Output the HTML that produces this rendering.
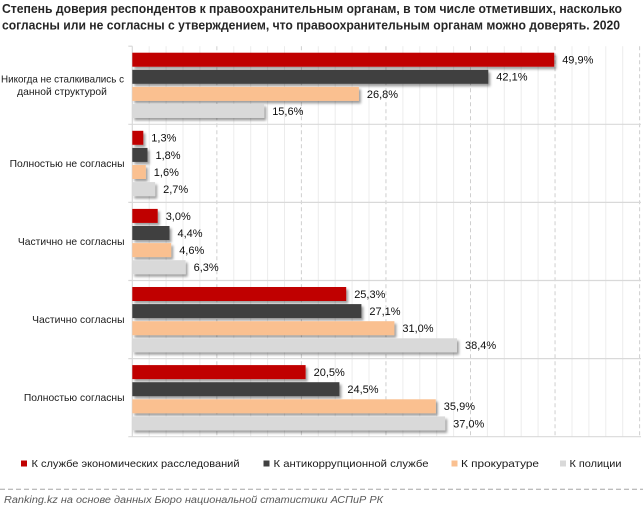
<!DOCTYPE html>
<html>
<head>
<meta charset="utf-8">
<style>
  html,body{margin:0;padding:0;background:#fff;}
  svg{display:block;}
  text{font-family:"Liberation Sans","Noto Sans CJK SC",sans-serif;}
</style>
</head>
<body>
<svg width="643" height="512" viewBox="0 0 643 512" xmlns="http://www.w3.org/2000/svg">
  <defs>
    <filter id="sh" x="-5%" y="-30%" width="115%" height="180%">
      <feDropShadow dx="2" dy="2.5" stdDeviation="1.4" flood-color="#000" flood-opacity="0.38"/>
    </filter>
  </defs>
  <rect width="643" height="512" fill="#fff"/>

  <!-- Title -->
  <text x="2" y="13" font-size="12.5" font-weight="bold" fill="#262626" textLength="620" lengthAdjust="spacingAndGlyphs">Степень доверия респондентов к правоохранительным органам, в том числе  отметивших, насколько</text>
  <text x="2" y="29.5" font-size="12.5" font-weight="bold" fill="#262626" textLength="618" lengthAdjust="spacingAndGlyphs">согласны или не согласны с утверждением, что правоохранительным органам можно доверять. 2020</text>

  <!-- minor gridlines -->
  <g stroke="#ECECEC" stroke-width="1">
    <line x1="149.2" y1="46.2" x2="149.2" y2="436.7"/>
    <line x1="166.1" y1="46.2" x2="166.1" y2="436.7"/>
    <line x1="183.0" y1="46.2" x2="183.0" y2="436.7"/>
    <line x1="199.9" y1="46.2" x2="199.9" y2="436.7"/>
    <line x1="233.8" y1="46.2" x2="233.8" y2="436.7"/>
    <line x1="250.7" y1="46.2" x2="250.7" y2="436.7"/>
    <line x1="267.6" y1="46.2" x2="267.6" y2="436.7"/>
    <line x1="284.5" y1="46.2" x2="284.5" y2="436.7"/>
    <line x1="318.3" y1="46.2" x2="318.3" y2="436.7"/>
    <line x1="335.2" y1="46.2" x2="335.2" y2="436.7"/>
    <line x1="352.1" y1="46.2" x2="352.1" y2="436.7"/>
    <line x1="369.0" y1="46.2" x2="369.0" y2="436.7"/>
    <line x1="402.9" y1="46.2" x2="402.9" y2="436.7"/>
    <line x1="419.8" y1="46.2" x2="419.8" y2="436.7"/>
    <line x1="436.7" y1="46.2" x2="436.7" y2="436.7"/>
    <line x1="453.6" y1="46.2" x2="453.6" y2="436.7"/>
    <line x1="487.4" y1="46.2" x2="487.4" y2="436.7"/>
    <line x1="504.3" y1="46.2" x2="504.3" y2="436.7"/>
    <line x1="521.2" y1="46.2" x2="521.2" y2="436.7"/>
    <line x1="538.1" y1="46.2" x2="538.1" y2="436.7"/>
    <line x1="572.0" y1="46.2" x2="572.0" y2="436.7"/>
    <line x1="588.9" y1="46.2" x2="588.9" y2="436.7"/>
    <line x1="605.8" y1="46.2" x2="605.8" y2="436.7"/>
    <line x1="622.7" y1="46.2" x2="622.7" y2="436.7"/>
  </g>
  <!-- major dashed gridlines -->
  <g stroke="#CFCFCF" stroke-width="1" stroke-dasharray="4,3">
    <line x1="216.85" y1="46.2" x2="216.85" y2="436.7"/>
    <line x1="301.4" y1="46.2" x2="301.4" y2="436.7"/>
    <line x1="385.95" y1="46.2" x2="385.95" y2="436.7"/>
    <line x1="470.5" y1="46.2" x2="470.5" y2="436.7"/>
    <line x1="555.05" y1="46.2" x2="555.05" y2="436.7"/>
    <line x1="639.6" y1="46.2" x2="639.6" y2="436.7"/>
  </g>
  <!-- category separators + axis -->
  <g stroke="#D9D9D9" stroke-width="1.2">
    <line x1="128.3" y1="124.3" x2="641" y2="124.3"/>
    <line x1="128.3" y1="202.4" x2="641" y2="202.4"/>
    <line x1="128.3" y1="280.5" x2="641" y2="280.5"/>
    <line x1="128.3" y1="358.6" x2="641" y2="358.6"/>
    <line x1="128.3" y1="436.7" x2="641" y2="436.7"/>
    <line x1="128.3" y1="46.2" x2="132.3" y2="46.2"/>
    <line x1="132.3" y1="46.2" x2="132.3" y2="436.7"/>
  </g>

  <!-- Bars -->
  <g filter="url(#sh)">
    <rect x="132.3" y="52.7" width="421.9" height="14" fill="#C00000"/>
    <rect x="132.3" y="69.8" width="356.0" height="14" fill="#404040"/>
    <rect x="132.3" y="86.9" width="226.6" height="14" fill="#FAC090"/>
    <rect x="132.3" y="104.0" width="131.9" height="14" fill="#D9D9D9"/>

    <rect x="132.3" y="130.8" width="11.0" height="14" fill="#C00000"/>
    <rect x="132.3" y="147.9" width="15.2" height="14" fill="#404040"/>
    <rect x="132.3" y="165.0" width="13.5" height="14" fill="#FAC090"/>
    <rect x="132.3" y="182.1" width="22.8" height="14" fill="#D9D9D9"/>

    <rect x="132.3" y="208.9" width="25.4" height="14" fill="#C00000"/>
    <rect x="132.3" y="226.0" width="37.2" height="14" fill="#404040"/>
    <rect x="132.3" y="243.1" width="38.9" height="14" fill="#FAC090"/>
    <rect x="132.3" y="260.2" width="53.3" height="14" fill="#D9D9D9"/>

    <rect x="132.3" y="287.0" width="213.9" height="14" fill="#C00000"/>
    <rect x="132.3" y="304.1" width="229.1" height="14" fill="#404040"/>
    <rect x="132.3" y="321.2" width="262.1" height="14" fill="#FAC090"/>
    <rect x="132.3" y="338.3" width="324.7" height="14" fill="#D9D9D9"/>

    <rect x="132.3" y="365.1" width="173.3" height="14" fill="#C00000"/>
    <rect x="132.3" y="382.2" width="207.1" height="14" fill="#404040"/>
    <rect x="132.3" y="399.3" width="303.5" height="14" fill="#FAC090"/>
    <rect x="132.3" y="416.4" width="312.8" height="14" fill="#D9D9D9"/>
  </g>

  <!-- Value labels -->
  <g font-size="11" fill="#0d0d0d">
    <text x="562.2" y="63.6">49,9%</text>
    <text x="496.3" y="80.7">42,1%</text>
    <text x="366.9" y="97.8">26,8%</text>
    <text x="272.2" y="114.9">15,6%</text>

    <text x="151.3" y="141.7">1,3%</text>
    <text x="155.5" y="158.8">1,8%</text>
    <text x="153.8" y="175.9">1,6%</text>
    <text x="163.1" y="193.0">2,7%</text>

    <text x="165.7" y="219.8">3,0%</text>
    <text x="177.5" y="236.9">4,4%</text>
    <text x="179.2" y="254.0">4,6%</text>
    <text x="193.6" y="271.1">6,3%</text>

    <text x="354.2" y="297.9">25,3%</text>
    <text x="369.4" y="315.0">27,1%</text>
    <text x="402.4" y="332.1">31,0%</text>
    <text x="465.0" y="349.2">38,4%</text>

    <text x="313.6" y="376.0">20,5%</text>
    <text x="347.4" y="393.1">24,5%</text>
    <text x="443.8" y="410.2">35,9%</text>
    <text x="453.1" y="427.3">37,0%</text>
  </g>

  <!-- Category labels -->
  <g font-size="10.3" fill="#1a1a1a">
    <text x="1" y="82.5" textLength="123" lengthAdjust="spacingAndGlyphs">Никогда не сталкивались с</text>
    <text x="62" y="95" text-anchor="middle">данной структурой</text>
    <text x="124.5" y="167" text-anchor="end">Полностью не согласны</text>
    <text x="124.5" y="245" text-anchor="end">Частично не согласны</text>
    <text x="124.5" y="323" text-anchor="end">Частично согласны</text>
    <text x="124.5" y="401" text-anchor="end">Полностью согласны</text>
  </g>

  <!-- Legend -->
  <rect x="21" y="460.5" width="6" height="6" fill="#C00000"/>
  <rect x="263.5" y="460.5" width="6" height="6" fill="#404040"/>
  <rect x="451.5" y="460.5" width="6" height="6" fill="#FAC090"/>
  <rect x="560" y="460.5" width="6" height="6" fill="#D9D9D9"/>
  <g font-size="10.5" fill="#1a1a1a">
    <text x="31.5" y="467" textLength="208" lengthAdjust="spacingAndGlyphs">К службе экономических расследований</text>
    <text x="273.5" y="467" textLength="155" lengthAdjust="spacingAndGlyphs">К антикоррупционной службе</text>
    <text x="461" y="467" textLength="78" lengthAdjust="spacingAndGlyphs">К прокуратуре</text>
    <text x="569.5" y="467" textLength="52" lengthAdjust="spacingAndGlyphs">К полиции</text>
  </g>

  <!-- Dashed separator -->
  <line x1="0" y1="489.2" x2="643" y2="489.2" stroke="#A6A6A6" stroke-width="1" stroke-dasharray="5,3"/>

  <!-- Footer -->
  <text x="4" y="503" font-size="10" font-style="italic" fill="#595959" textLength="379" lengthAdjust="spacingAndGlyphs">Ranking.kz на основе данных Бюро национальной статистики АСПиР РК</text>
</svg>
</body>
</html>
